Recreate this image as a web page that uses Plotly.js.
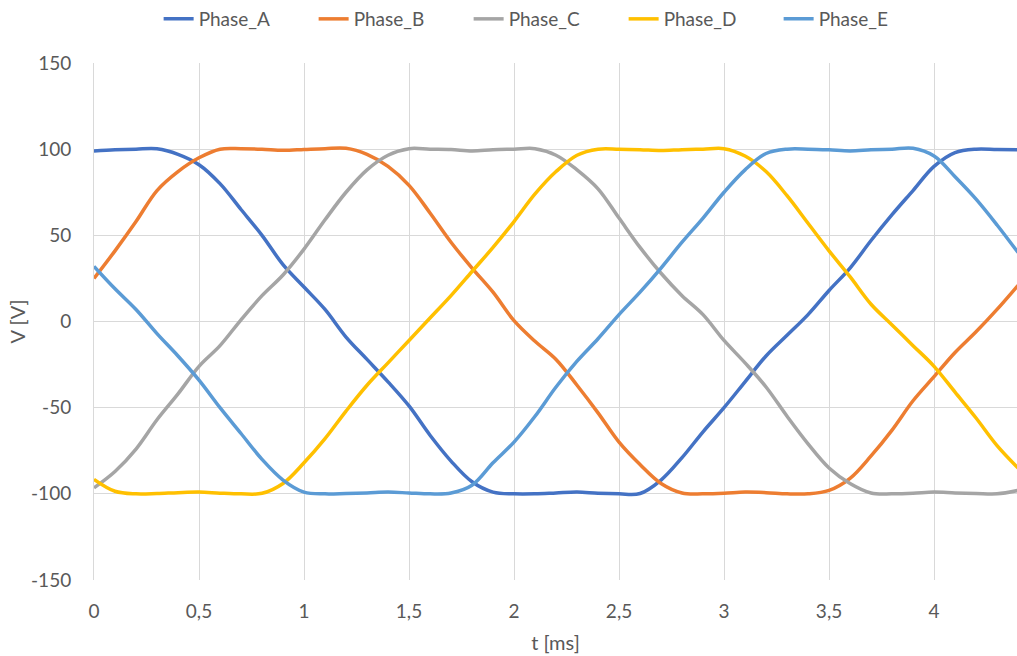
<!DOCTYPE html>
<html>
<head>
<meta charset="utf-8">
<script src="https://cdn.plot.ly/plotly-3.0.1.min.js"></script>
<style>html,body{margin:0;padding:0;background:#fff;}#chart{width:1017px;height:656px;}</style>
</head>
<body>
<div id="chart"></div>
<script>
const t = [0,0.1,0.2,0.3,0.4,0.5,0.6,0.7,0.8,0.9,1.0,1.1,1.2,1.3,1.4,1.5,1.6,1.7,1.8,1.9,2.0,2.1,2.2,2.3,2.4,2.5,2.6,2.7,2.8,2.9,3.0,3.1,3.2,3.3,3.4,3.5,3.6,3.7,3.8,3.9,4.0,4.1,4.2,4.3,4.4];
const phaseA = [99,99.6,100,100.2,97,91,80,65,50,33,20,7,-9,-22,-35,-49,-66,-81,-93,-99,-100,-100,-99.5,-99,-99.7,-100,-99.8,-92,-79,-64,-50,-35,-20,-8,4,18,31,47,62,76,90,98,100,99.8,99.6];
const phaseB = [25,41,58,76,87,95,100,100.3,100,99.3,99.8,100.3,100.5,97,90,79,63,46,31,17,0.5,-11.5,-22,-37,-53,-70,-83,-94,-99.5,-100,-99.7,-99,-99.3,-100,-100,-98,-91,-78,-63,-46,-32,-18,-6,7,21];
const phaseC = [-96.5,-87,-74,-57,-42,-26,-14,1,15,27,42,59,75,88,96.5,100.3,100,99.8,99,99.7,100,100.3,96.5,88,77,60,43,28,15,4,-11,-24,-38,-55,-71,-85,-94,-99.5,-100,-99.7,-99,-99.5,-99.8,-100,-98];
const phaseD = [-91.6,-98.5,-100,-99.8,-99.3,-99,-99.6,-100,-99.7,-94,-82,-68,-52,-37,-24,-11,2,15,29,43,58,74,87,96.5,100,100,99.7,99.2,99.7,100,100.3,96,87,73,57,41,26,10,-2,-14,-26,-41,-56,-72,-85];
const phaseE = [32,19,7,-7,-20,-34,-50,-65,-80,-92,-99,-100,-99.8,-99.5,-99,-99.5,-100,-99.5,-95,-82,-70,-55,-38,-23,-10,4,17,31,46,60,75,88,97.5,100,100,99.6,99,99.6,100,100.5,96,84,71,56,40];
const names = ['Phase_A','Phase_B','Phase_C','Phase_D','Phase_E'];
const colors = ['#4472C4','#ED7D31','#A5A5A5','#FFC000','#5B9BD5'];
const series = [phaseA, phaseB, phaseC, phaseD, phaseE];
const yTickVals = [-150,-100,-50,0,50,100,150];
const yTickText = ['-150','-100','-50','0','50','100','150'];

const traces = series.map((ys, i) => ({
  x: t, y: ys, name: names[i], type: 'scatter', mode: 'lines',
  line: {color: colors[i], width: 3.5, shape: 'spline', smoothing: 1},
  hoverinfo: 'skip'
}));

const font = 'Lato, "Open Sans", sans-serif';
const layout = {
  width: 1017, height: 656,
  separators: ',.',
  margin: {l: 94, r: 0, t: 63, b: 76},
  paper_bgcolor: '#fff', plot_bgcolor: '#fff',
  font: {family: font, size: 19, color: '#595959'},
  showlegend: true,
  legend: {orientation: 'h', xref: 'container', yref: 'container', x: 0.537, xanchor: 'center', y: 1, yanchor: 'top',
           font: {family: font, size: 19, color: '#595959'}, entrywidth: 110, entrywidthmode: 'pixels'},
  xaxis: {range: [0, 4.395], dtick: 0.5, tick0: 0, showgrid: true, gridcolor: '#D9D9D9', gridwidth: 1,
          zeroline: false, showline: false, ticks: 'outside', ticklen: 14, tickcolor: 'rgba(0,0,0,0)',
          tickfont: {size: 19, color: '#595959'},
          title: {text: 't [ms]', font: {size: 20, color: '#595959'}, standoff: 15}},
  yaxis: {range: [-150, 150], tickvals: yTickVals, ticktext: yTickText, showgrid: true, gridcolor: '#D9D9D9', gridwidth: 1,
          zeroline: false, showline: true, linecolor: '#D9D9D9', ticks: 'outside', ticklen: 18, tickcolor: 'rgba(0,0,0,0)',
          tickfont: {size: 19, color: '#595959'},
          title: {text: 'V [V]', font: {size: 20, color: '#595959'}, standoff: 0}}
};
Plotly.newPlot('chart', traces, layout, {staticPlot: true, displayModeBar: false});
</script>
</body>
</html>
